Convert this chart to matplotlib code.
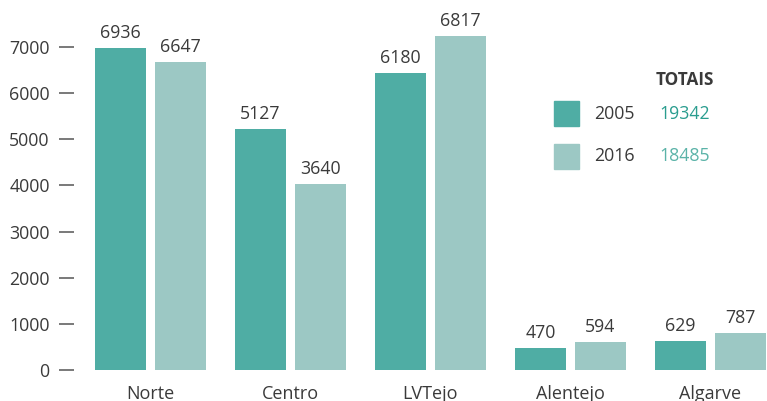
import numpy as np
import matplotlib
matplotlib.use("Agg")
import matplotlib.pyplot as plt
from matplotlib.patches import Rectangle

plt.rcParams['font.family'] = ['Open Sans', 'DejaVu Sans']

regions = ["Norte", "Centro", "LVTejo", "Alentejo", "Algarve"]
years = ["2005", "2016"]
# bar heights as drawn in the picture
heights_2005 = [6980, 5220, 6440, 477, 630]
heights_2016 = [6675, 4030, 7240, 607, 800]
# printed value labels
labels_2005 = [6936, 5127, 6180, 470, 629]
labels_2016 = [6647, 3640, 6817, 594, 787]
totals = [19342, 18485]

c_2005 = "#4fada4"
c_2016 = "#9cc8c4"
c_tot = ["#2a9d8f", "#5bb3a8"]
txt = "#3a3a3a"

fig = plt.figure(figsize=(7.67, 4.01), dpi=100)
ax = fig.add_axes([74/767, 31/401, (767-74)/767, (370-19.3)/401])

x = np.arange(len(regions))
w = 0.364
off = 0.215
b1 = ax.bar(x - off, heights_2005, w, color=c_2005)
b2 = ax.bar(x + off, heights_2016, w, color=c_2016)

for bars, labs in ((b1, labels_2005), (b2, labels_2016)):
    for b, lab in zip(bars, labs):
        ax.text(b.get_x() + b.get_width()/2, b.get_height() + 130, str(lab),
                ha="center", va="bottom", fontsize=12.8, color=txt, clip_on=False)

ax.set_xlim(-0.546, 4.404)
ax.set_ylim(0, 7600)
ax.set_yticks(range(0, 8000, 1000))
ax.set_xticks(x)
ax.set_xticklabels(regions)
ax.tick_params(axis="x", length=0, pad=11, labelsize=13, labelcolor=txt)
ax.tick_params(axis="y", length=10.5, width=1.1, color="#555555", pad=7,
               labelsize=12.8, labelcolor=txt)
for s in ax.spines.values():
    s.set_visible(False)

# legend with totals
fig.text(685/767, 1 - 80/401, "TOTAIS", fontsize=12.3, fontweight="bold",
         color=txt, ha="center", va="center")
for i, (yr, col) in enumerate(zip(years, [c_2005, c_2016])):
    yc = 113.5 + i*43
    fig.patches.append(Rectangle((554/767, 1 - (yc + 12.5)/401), 25/767, 25/401,
                                 transform=fig.transFigure, color=col))
    fig.text(614/767, 1 - yc/401, yr, fontsize=12.8, color=txt, ha="center", va="center")
    fig.text(685/767, 1 - yc/401, str(totals[i]), fontsize=12.8, color=c_tot[i],
             ha="center", va="center")

fig.savefig("out.png", dpi=100)
